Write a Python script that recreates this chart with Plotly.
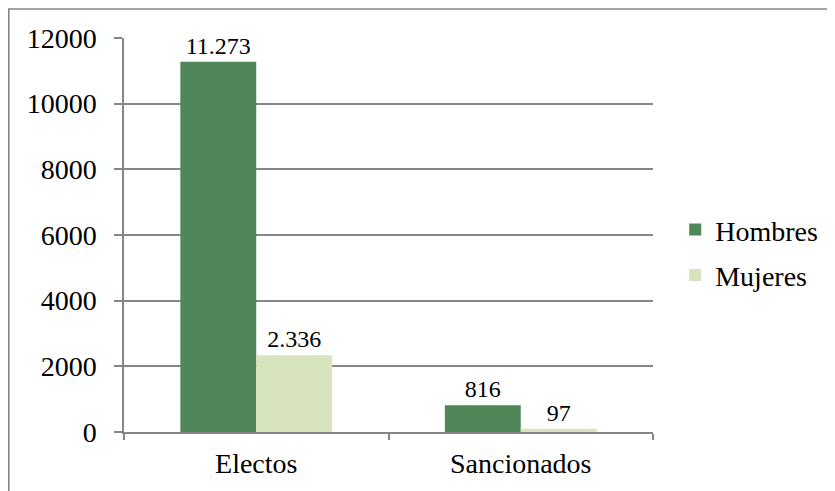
import plotly.graph_objects as go

categories = ["Electos", "Sancionados"]
hombres = [11273, 816]
mujeres = [2336, 97]
hombres_labels = ["11.273", "816"]
mujeres_labels = ["2.336", "97"]
y_ticks = [0, 2000, 4000, 6000, 8000, 10000, 12000]

# page body has an 8px margin, so the figure is offset by 8px
OFF = 8
W, H = 835 - OFF, 491 - OFF
L, R, T, B = 124 - OFF, 835 - 653, 38 - OFF, 491 - 434
pw, ph = W - L - R, H - T - B

FONT = "Liberation Serif"
GRAY = "#868686"

fig = go.Figure()
fig.add_trace(go.Bar(
    x=categories, y=hombres, name="Hombres", text=hombres_labels,
    textposition="outside", marker=dict(color="#4F8759", line=dict(width=0)),
    textfont=dict(family=FONT, size=24, color="black"), cliponaxis=False,
    legendgroup="h",
))
fig.add_trace(go.Bar(
    x=categories, y=mujeres, name="Mujeres", text=mujeres_labels,
    textposition="outside", marker=dict(color="#D8E4BD", line=dict(width=0)),
    textfont=dict(family=FONT, size=24, color="black"), cliponaxis=False,
    legendgroup="m",
))

def px_x(x):
    return (x - L) / pw

def px_y(y):
    return (H - B - y) / ph

fig.add_shape(type="rect", xref="paper", yref="paper",
              x0=px_x(0.8), x1=px_x(845), y0=px_y(0.8), y1=px_y(510),
              line=dict(color=GRAY, width=1.6), fillcolor="rgba(0,0,0,0)", layer="below")

fig.update_layout(
    width=W, height=H,
    margin=dict(l=L, r=R, t=T, b=B, pad=0),
    paper_bgcolor="white", plot_bgcolor="white",
    barmode="group", bargap=0.426, bargroupgap=0,
    font=dict(family=FONT, size=28, color="black"),
    legend=dict(x=1.042, xanchor="left", y=px_y(253.5 - OFF), yanchor="middle",
                font=dict(family=FONT, size=28, color="black"),
                traceorder="grouped", tracegroupgap=6,
                bgcolor="rgba(0,0,0,0)", itemwidth=30),
    xaxis=dict(showline=True, linecolor=GRAY, linewidth=1.5,
               ticks="outside", tickson="boundaries", ticklen=6,
               tickcolor=GRAY, tickwidth=1.5, showgrid=False,
               tickfont=dict(family=FONT, size=28), ticklabelstandoff=6),
    yaxis=dict(range=[0, 12000], tickvals=y_ticks, showline=True,
               linecolor=GRAY, linewidth=1.5, ticks="outside", ticklen=8,
               tickcolor=GRAY, tickwidth=1.5, showgrid=True, gridcolor=GRAY,
               gridwidth=1.5, zeroline=False, ticklabelstandoff=12,
               tickfont=dict(family=FONT, size=28), tickformat="d"),
)

fig.write_html("out.html")
